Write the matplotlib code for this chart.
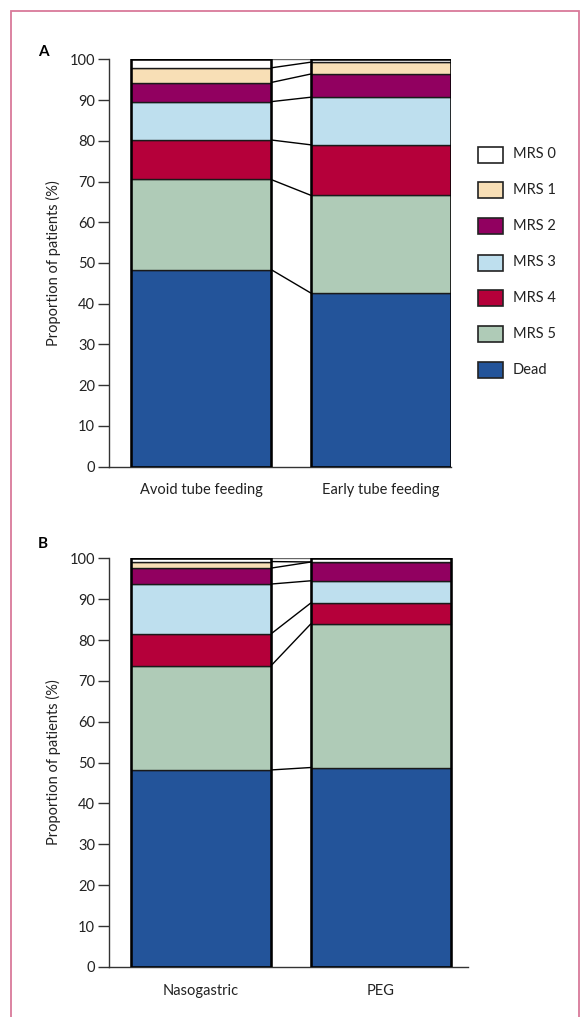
import matplotlib
matplotlib.use("Agg")
import matplotlib.pyplot as plt
from matplotlib.patches import Rectangle
import numpy as np

plt.rcParams['font.family'] = ['Lato', 'DejaVu Sans']

# Modified Rankin Scale outcome categories, stacked bottom to top
categories = ["Dead", "MRS 5", "MRS 4", "MRS 3", "MRS 2", "MRS 1", "MRS 0"]
colors = ["#23549a", "#afcbb7", "#b5003a", "#bedfee", "#910060", "#f8dfb6", "#ffffff"]

# Panel A: avoid vs early tube feeding (% of patients)
groups_a = ["Avoid tube feeding", "Early tube feeding"]
avoid_tube = [48.4, 22.1, 9.7, 9.4, 4.7, 3.6, 2.1]
early_tube = [42.6, 24.0, 12.4, 11.7, 5.7, 2.9, 0.7]

# Panel B: nasogastric vs PEG (% of patients)
groups_b = ["Nasogastric", "PEG"]
nasogastric = [48.2, 25.5, 7.8, 12.2, 3.9, 1.6, 0.8]
peg = [48.8, 35.2, 5.1, 5.4, 4.6, 0.0, 0.9]

yticks = list(range(0, 101, 10))

W, H = 585, 1017
fig = plt.figure(figsize=(W / 100, H / 100), dpi=100)

# outer frame
fig.patches.append(Rectangle((11 / W, -0.01), (579 - 11) / W, 1 - 11 / H + 0.01,
                             transform=fig.transFigure, fill=False,
                             edgecolor="#d9799a", linewidth=1.3))

bar_w = 140 / 180


def panel(rect, groups, series, letter, letter_y, xaxis_end):
    ax = fig.add_axes(rect)
    x = np.arange(len(groups))
    data = np.array(series)
    bottoms = np.zeros(len(groups))
    for k in range(len(categories)):
        ax.bar(x, data[:, k], bottom=bottoms, width=bar_w, color=colors[k],
               edgecolor="#1a1a1a", linewidth=1.0, zorder=2)
        bottoms = bottoms + data[:, k]
    # heavy outline around each full bar
    tot = data.sum(axis=1)
    for i in x:
        ax.add_patch(Rectangle((i - bar_w / 2, 0), bar_w, tot[i], fill=False,
                               edgecolor="black", linewidth=1.8, zorder=3))
    # connecting lines between category boundaries
    cum = np.cumsum(data, axis=1)
    for k in range(len(categories)):
        c = "#666666" if k == len(categories) - 1 else "black"
        ax.plot([0 + bar_w / 2, 1 - bar_w / 2], [cum[0, k], cum[1, k]],
                color=c, linewidth=1.0, zorder=1, solid_capstyle="butt")
    ax.set_xlim(-92 / 180, xaxis_end)
    ax.set_ylim(0, 100)
    ax.set_yticks(yticks)
    ax.set_yticklabels([str(t) for t in yticks], fontsize=10.5, color="#222222")
    ax.set_xticks(x)
    ax.set_xticklabels(groups, fontsize=10.5, color="#222222")
    ax.tick_params(axis="x", length=0, pad=12)
    ax.tick_params(axis="y", length=8, width=1.0, color="#333333", pad=2)
    for s in ["top", "right"]:
        ax.spines[s].set_visible(False)
    ax.spines["left"].set_color("#333333")
    ax.spines["bottom"].set_color("#333333")
    ax.spines["left"].set_linewidth(1.0)
    ax.spines["bottom"].set_linewidth(1.0)
    ax.set_ylabel("Proportion of patients (%)", fontsize=10.5, color="#222222", labelpad=6)
    fig.text(38 / W, 1 - letter_y / H, letter, fontsize=11,
             fontweight="bold", ha="left", va="baseline")
    return ax


left = 109 / W
width_a = (451 - 109) / W
ax_a = panel([left, 1 - 466.7 / H, width_a, (466.7 - 59.3) / H],
             groups_a, [avoid_tube, early_tube], "A", 56, 1 + 70 / 180)
width_b = (468 - 109) / W
ax_b = panel([left, 1 - 966.9 / H, width_b, (966.9 - 558.3) / H],
             groups_b, [nasogastric, peg], "B", 548, 1 + 87 / 180)

# legend, top entry first
legend_y = [154.5, 189.5, 225.7, 262.5, 297.7, 333.7, 370.3]
for lab, col, yc in zip(categories[::-1], colors[::-1], legend_y):
    fig.patches.append(Rectangle((477.5 / W, 1 - (yc + 8) / H), 25 / W, 16 / H,
                                 transform=fig.transFigure, facecolor=col,
                                 edgecolor="#222222", linewidth=1.2))
    fig.text(513 / W, 1 - yc / H, lab, fontsize=10.5, color="#222222",
             ha="left", va="center")

fig.savefig("out.png", dpi=100)
